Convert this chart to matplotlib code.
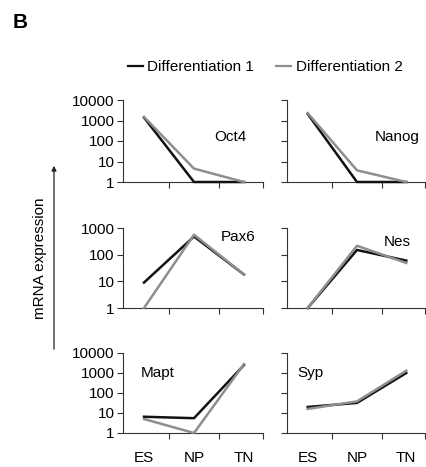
import matplotlib
matplotlib.use('Agg')
import matplotlib.pyplot as plt
from matplotlib.lines import Line2D

plt.rcParams['font.family'] = ['Liberation Sans', 'DejaVu Sans']

stages = ['ES', 'NP', 'TN']
genes = ['Oct4', 'Nanog', 'Pax6', 'Nes', 'Mapt', 'Syp']

# mRNA expression per stage (ES, NP, TN)
diff1 = {
    'Oct4': [1400, 1, 1],
    'Nanog': [2100, 1, 1],
    'Pax6': [9, 480, 18],
    'Nes': [1, 150, 60],
    'Mapt': [6.5, 5.5, 2500],
    'Syp': [20, 32, 1000],
}
diff2 = {
    'Oct4': [1500, 4.5, 1],
    'Nanog': [2300, 3.7, 1],
    'Pax6': [1, 560, 18],
    'Nes': [1, 215, 49],
    'Mapt': [5, 1, 2800],
    'Syp': [16, 38, 1300],
}
row_ylim = [(1, 10000), (1, 1000), (1, 10000)]
row_yticks = [[1, 10, 100, 1000, 10000], [1, 10, 100, 1000], [1, 10, 100, 1000, 10000]]

# label positions within axes (fraction)
label_pos = {
    'Oct4': (0.77, 0.55), 'Nanog': (0.80, 0.55),
    'Pax6': (0.82, 0.89), 'Nes': (0.80, 0.83),
    'Mapt': (0.25, 0.75), 'Syp': (0.17, 0.75),
}

W, H = 426, 467
FS = 11
fig = plt.figure(figsize=(W / 100, H / 100), dpi=100)

col_x = [(123, 140), (287, 138)]
row_y = [(100, 182), (228, 308), (353, 433)]

for i, gene in enumerate(genes):
    r, c = divmod(i, 2)
    x0, w = col_x[c]
    ytop, ybot = row_y[r]
    ax = fig.add_axes([x0 / W, 1 - ybot / H, w / W, (ybot - ytop) / H])
    xs = range(len(stages))
    ax.plot(xs, diff1[gene], color='#111111', lw=1.8, clip_on=False, zorder=3)
    ax.plot(xs, diff2[gene], color='#8e8e8e', lw=1.8, clip_on=False, zorder=3)
    ax.set_yscale('log')
    ax.set_ylim(*row_ylim[r])
    ax.set_yticks(row_yticks[r])
    ax.minorticks_off()
    if c == 0:
        ax.set_yticklabels([f'{t:d}' for t in row_yticks[r]])
    else:
        ax.set_yticklabels([])
    ax.set_xlim(-0.42, 2.38)
    ax.set_xticks([0.5, 1.5, 2.38])
    ax.set_xticklabels([])
    ax.tick_params(axis='both', direction='out', length=4, width=0.8,
                   color='#333333', labelsize=FS, pad=2)
    if r == 2:
        ax.set_xticks(list(xs), minor=True)
        ax.set_xticklabels(stages, minor=True)
        ax.tick_params(axis='x', which='minor', length=0, labelsize=FS, pad=13)
    for s in ['top', 'right']:
        ax.spines[s].set_visible(False)
    for s in ['left', 'bottom']:
        ax.spines[s].set_color('#333333')
        ax.spines[s].set_linewidth(0.8)
    lx, ly = label_pos[gene]
    ax.text(lx, ly, gene, transform=ax.transAxes, ha='center', va='center',
            fontsize=FS)

# panel letter
fig.text(13 / W, 1 - 22 / H, 'B', fontsize=15, fontweight='bold', va='center')

# legend
handles = [Line2D([], [], color='#111111', lw=1.6),
           Line2D([], [], color='#8e8e8e', lw=1.6)]
fig.legend(handles, ['Differentiation 1', 'Differentiation 2'],
           loc='center', bbox_to_anchor=(265 / W, 1 - 67 / H), ncol=2,
           frameon=False, fontsize=FS, handlelength=1.0, handletextpad=0.3,
           columnspacing=1.4)

# y-axis label with arrow
fig.add_artist(matplotlib.patches.FancyArrowPatch(
    (54 / W, 1 - 352 / H), (54 / W, 1 - 163 / H), transform=fig.transFigure,
    arrowstyle='-|>', mutation_scale=7, lw=0.9, color='#222222'))
fig.text(40 / W, 1 - 258 / H, 'mRNA expression', rotation=90, ha='center',
         va='center', fontsize=FS)

fig.savefig('out.png', dpi=100)
